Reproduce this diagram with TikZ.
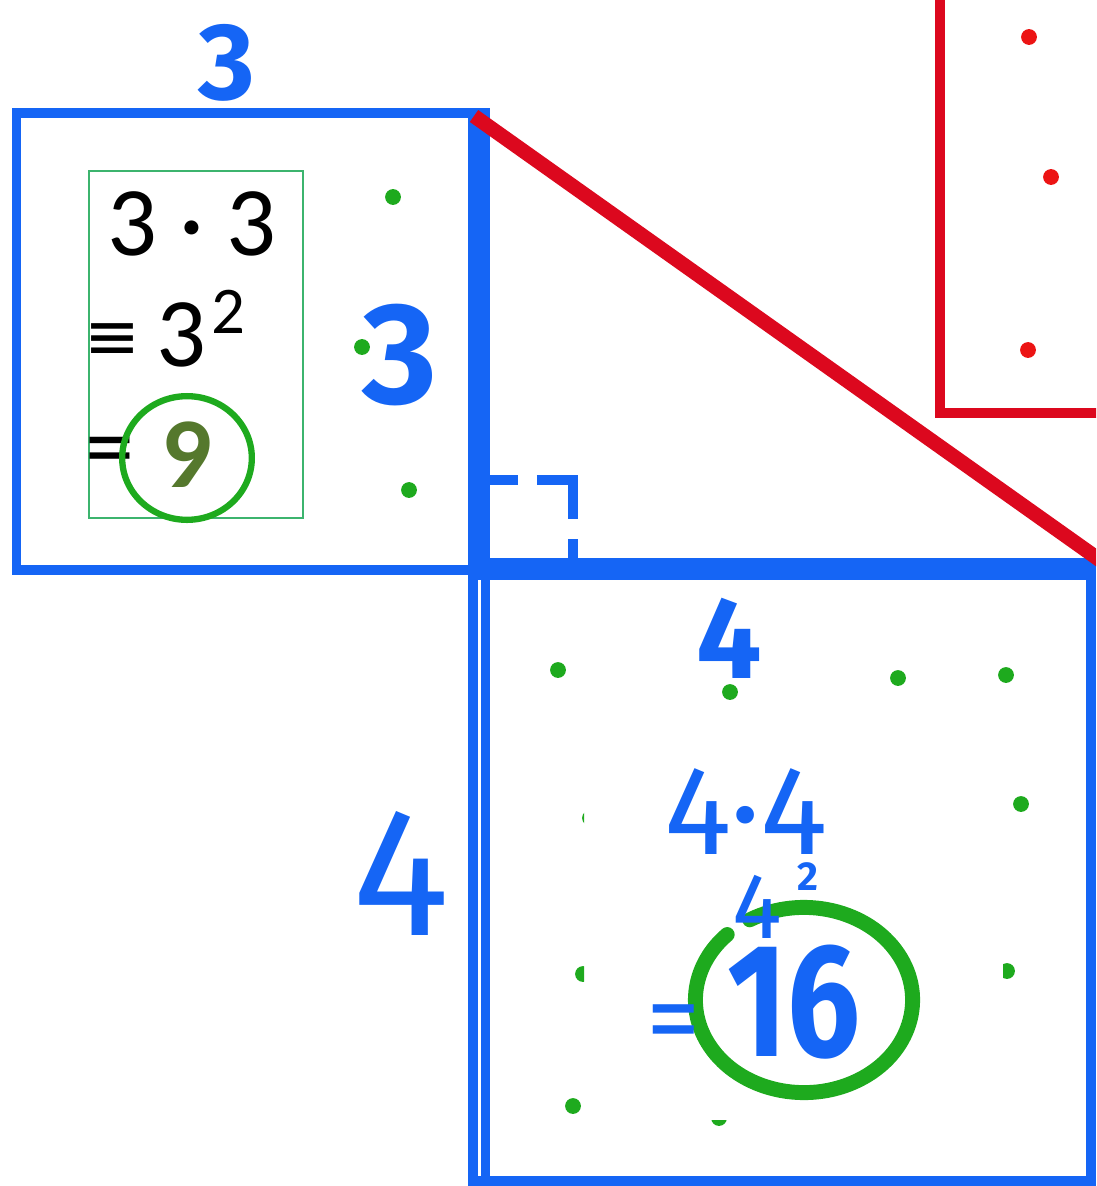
\documentclass[tikz,border=0pt]{standalone}
\usepackage{fontspec}
\setmainfont{Carlito}
\newfontfamily\handfont{Fira Sans}
\newfontfamily\symfont{DejaVu Sans}
\definecolor{pblue}{RGB}{21,101,245}
\definecolor{pred}{RGB}{220,8,30}
\definecolor{pdotred}{RGB}{236,20,20}
\definecolor{pgreen}{RGB}{30,170,30}
\definecolor{pbox}{RGB}{60,180,110}
\definecolor{polive}{RGB}{85,120,45}
\begin{document}
\begin{tikzpicture}[x=0.02cm,y=-0.02cm,
  bl/.style={text=pblue,inner sep=0pt,outer sep=0pt},
  blk/.style={text=black,inner sep=0pt,outer sep=0pt},
  gdot/.style={fill=pgreen},
  rdot/.style={fill=pdotred},
  bandfill/.style={fill=pblue}]
\useasboundingbox (0,0) rectangle (1096,1186);
\clip (0,0) rectangle (1096,1186);

% red rectangle (partly outside)
\draw[pred,line width=5.7pt] (940,-20) -- (940,413) -- (1120,413);
\fill[rdot] (1029,37) circle[radius=4.5pt];
\fill[rdot] (1051,177) circle[radius=4.5pt];
\fill[rdot] (1028,350) circle[radius=4.5pt];

% small blue square
\fill[bandfill] (12,108) rectangle (21,575);
\fill[bandfill] (12,108) rectangle (490,118);
\fill[bandfill] (12,565) rectangle (490,575);
\fill[bandfill] (468,108) rectangle (490,580);

% big blue square
\fill[bandfill] (468,558) rectangle (1096,580);
\fill[bandfill] (468,558) rectangle (478,1186);
\fill[bandfill] (481,558) rectangle (490,1186);
\fill[bandfill] (1086,558) rectangle (1096,1186);
\fill[bandfill] (468,1176) rectangle (1096,1186);

% dashed right-angle mark
\draw[pblue,line width=5.7pt,dash pattern=on 15.9pt off 10.8pt on 43pt off 11.3pt on 30pt]
  (490,480) -- (573,480) -- (573,560);

% red hypotenuse
\coordinate (hA) at (474,116);
\coordinate (hB) at (1104,563);
\draw[pred,line width=8.3pt] (hA) -- (hB);

% green box with working for 3
\draw[pbox,line width=1.7pt] (89,171) rectangle (303,518);
\node[blk,font=\fontsize{56}{60}\selectfont,anchor=base] (t33) at (192,255) {3 · 3};
\node[blk,font=\symfont\fontsize{38}{40}\selectfont] (teq1) at (112,342) {≡};
\node[blk,font=\fontsize{56}{60}\selectfont,anchor=base] (t3b) at (181,366) {3};
\node[blk,font=\fontsize{38}{40}\selectfont,anchor=base] (t2) at (228,333) {2};
\node[blk,font=\fontsize{56}{60}\selectfont] (teq2) at (110,458) {=};
\coordinate (c9) at (187,458);
\draw[pgreen,line width=3.6pt] (c9) ellipse [x radius=36.9pt,y radius=35.2pt];
\node[text=polive,inner sep=0pt,font=\bfseries\fontsize{57}{60}\selectfont,anchor=base] (t9) at (187,487) {9};

% green dots small square
\fill[gdot] (393,197) circle[radius=4.5pt];
\fill[gdot] (362,347) circle[radius=4.5pt];
\fill[gdot] (409,490) circle[radius=4.5pt];

% blue labels small square
\node[bl,font=\handfont\bfseries\fontsize{62}{64}\selectfont,anchor=base] (top3) at (227,100) {3};
\node[bl,font=\handfont\bfseries\fontsize{82}{84}\selectfont,anchor=base] (right3) at (400,403) {3};

% green dots big square
\fill[gdot] (558,670) circle[radius=4.5pt];
\fill[gdot] (730,692) circle[radius=4.5pt];
\fill[gdot] (898,678) circle[radius=4.5pt];
\fill[gdot] (1006,675) circle[radius=4.5pt];
\fill[gdot] (1021,804) circle[radius=4.5pt];
\fill[gdot] (573,1106) circle[radius=4.5pt];
\begin{scope}
  \clip (540,790) rectangle (584,1000);
  \fill[gdot] (590,818) circle[radius=4.5pt];
  \fill[gdot] (583,974) circle[radius=4.5pt];
\end{scope}
\begin{scope}
  \clip (1003,950) rectangle (1030,990);
  \fill[gdot] (1007,971) circle[radius=4.5pt];
\end{scope}
\begin{scope}
  \clip (700,1120) rectangle (740,1140);
  \fill[gdot] (719,1118) circle[radius=4.5pt];
\end{scope}

% green open circle around 16
\coordinate (c16) at (804,1000);
\draw[pgreen,line width=8.5pt,line cap=round]
  ([shift={(120:61.8pt and 52.7pt)}]c16) arc[start angle=120,end angle=-225,x radius=61.8pt,y radius=52.7pt];

% blue labels big square
\node[bl,font=\handfont\bfseries\fontsize{66}{68}\selectfont,anchor=base] (top4) at (729,678) {4};
\node[bl,font=\handfont\fontsize{104}{108}\selectfont,anchor=base] (left4) at (401,935) {4};
\node[bl,font=\handfont\fontsize{72}{76}\selectfont,anchor=base] (t44) at (746,854) {4·4};
\node[bl,font=\handfont\fontsize{53}{56}\selectfont,anchor=base] (t4sq) at (757,938) {4};
\node[bl,font=\handfont\bfseries\fontsize{23}{25}\selectfont,anchor=base] (t4sup) at (808,890) {2};
\node[bl,font=\handfont\fontsize{62}{64}\selectfont] (beq) at (674,1030) {=};
\node[bl,font=\handfont\bfseries\fontsize{92}{96}\selectfont,anchor=base,xscale=0.8] (t16) at (794,1056) {16};
\end{tikzpicture}
\end{document}
